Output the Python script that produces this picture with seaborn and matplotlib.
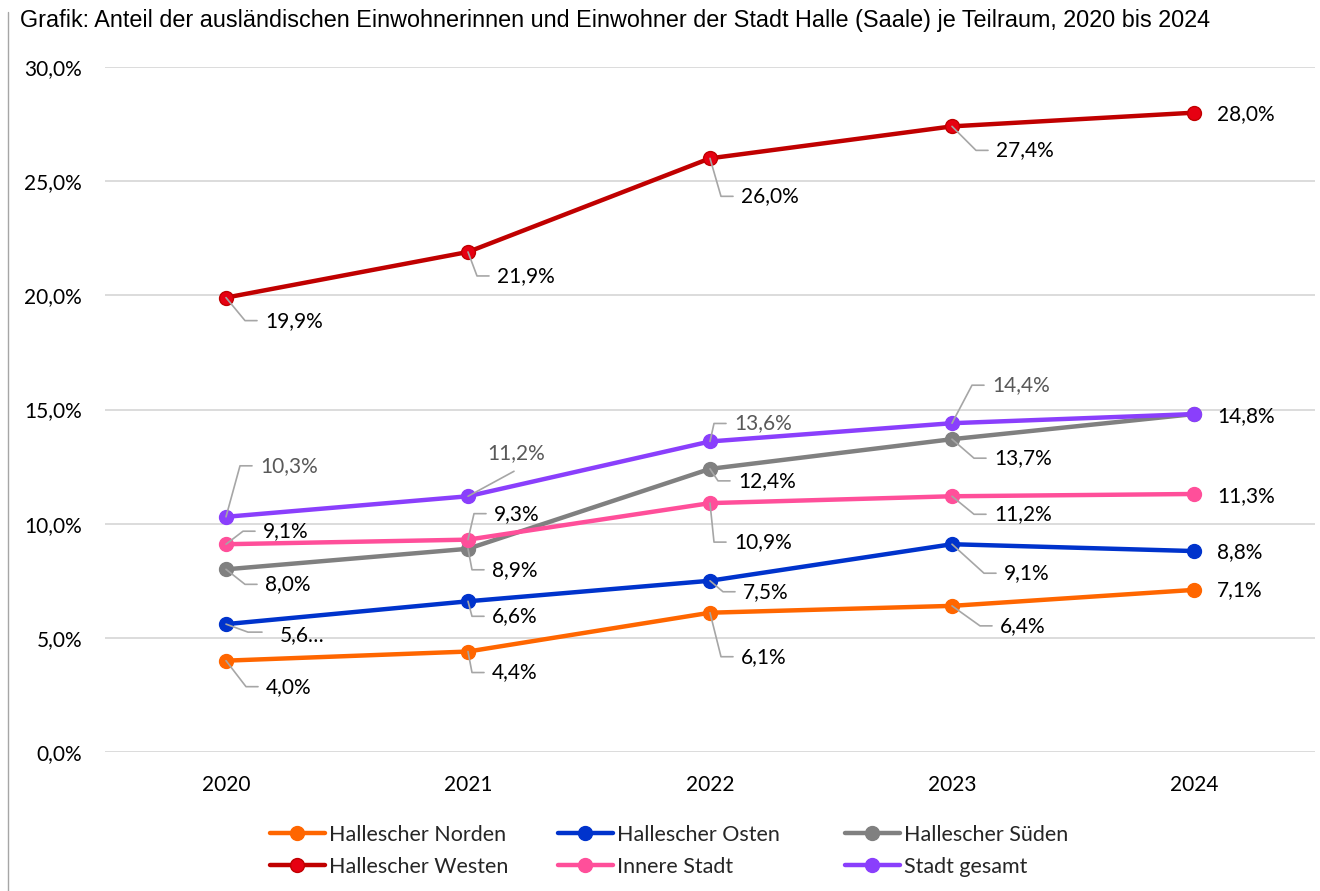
import matplotlib
matplotlib.use("Agg")
import matplotlib.pyplot as plt
from matplotlib.lines import Line2D
from matplotlib.transforms import IdentityTransform
import seaborn as sns

sns.set_theme(style="white")
plt.rcParams['font.family'] = ['Lato', 'DejaVu Sans']

# data (percent)
years = [2020, 2021, 2022, 2023, 2024]
norden = [4.0, 4.4, 6.1, 6.4, 7.1]
osten = [5.6, 6.6, 7.5, 9.1, 8.8]
sueden = [8.0, 8.9, 12.4, 13.7, 14.8]
westen = [19.9, 21.9, 26.0, 27.4, 28.0]
innere = [9.1, 9.3, 10.9, 11.2, 11.3]
gesamt = [10.3, 11.2, 13.6, 14.4, 14.8]
series_names = ["Hallescher Norden", "Hallescher Osten", "Hallescher Süden",
                "Hallescher Westen", "Innere Stadt", "Stadt gesamt"]
series_values = [norden, osten, sueden, westen, innere, gesamt]
y_ticks = [0, 5, 10, 15, 20, 25, 30]
title = ("Grafik: Anteil der ausländischen Einwohnerinnen und Einwohner der "
         "Stadt Halle (Saale) je Teilraum, 2020 bis 2024")

colors = ["#FF6600", "#0033CC", "#808080", "#C00000", "#FF4F9A", "#8A3FFC"]
faces = ["#FF6600", "#0033CC", "#808080", "#E60012", "#FF4F9A", "#8A3FFC"]
label_colors = ["#000000"] * 5 + ["#595959"]

def fmt(v):
    return f"{v:.1f}".replace(".", ",") + "%"

# label placement, pixels from the point (dx to text left, dy downwards)
label_pos = [
    [(40, 26), (24, 21), (31, 44), (48, 20), (23, 0)],
    [(54, 11, [(22, 8), (36, 8)]), (24, 15), (33, 11), (52, 29), (23, 1)],
    [(39, 15), (24, 21), (28, 12), (42, 19), (23, 2)],
    [(39, 23), (29, 24), (31, 38), (44, 24), (23, 1)],
    [(37, -13), (26, -26), (24, 39), (42, 18), (23, 2)],
    [(34, -51), (19, -43, [(46, -25)]), (24, -18), (40, -38), None],
]
label_text = {(1, 0): "5,6…"}

fig = plt.figure(figsize=(13.2, 8.91), dpi=100)
ax = fig.add_axes([105 / 1320, 1 - 752 / 891, 1210 / 1320, 685 / 891])

for name, vals, c, fc in zip(series_names, series_values, colors, faces):
    sns.lineplot(x=years, y=vals, ax=ax, color=c, linewidth=3.2, marker="o",
                 markersize=10, markerfacecolor=fc, markeredgecolor=c,
                 markeredgewidth=1, label=name, legend=False, zorder=3)

ax.set_xlim(2019.5, 2024.5)
ax.set_ylim(0, 30)
ax.set_xticks(years)
ax.set_xticklabels([str(y) for y in years])
ax.set_yticks(y_ticks)
ax.set_yticklabels([fmt(t) for t in y_ticks])
ax.set_xlabel("")
ax.set_ylabel("")
ax.yaxis.grid(True, color="#D9D9D9", linewidth=1.3)
ax.xaxis.grid(False)
ax.set_axisbelow(True)
sns.despine(ax=ax, left=True, bottom=True)
ax.tick_params(axis="y", length=0, pad=16.5, labelsize=15, colors="#000000")
ax.tick_params(axis="x", length=0, pad=16.5, labelsize=15, colors="#000000")

# data labels with leader lines
for si, vals in enumerate(series_values):
    for i, (x, v) in enumerate(zip(years, vals)):
        spec = label_pos[si][i]
        if spec is None:
            continue
        dx, dy = spec[0], spec[1]
        px, py = ax.transData.transform((x, v))
        if i < len(years) - 1:
            pts = spec[2] if len(spec) > 2 else [(dx - 20, dy), (dx - 8, dy)]
            lx = [px] + [px + p[0] for p in pts]
            ly = [py] + [py - p[1] for p in pts]
            fig.add_artist(Line2D(lx, ly, transform=IdentityTransform(),
                                  color="#A6A6A6", linewidth=1.2, zorder=5))
        fig.text(px + dx, py - dy, label_text.get((si, i), fmt(v)),
                 transform=IdentityTransform(), ha="left", va="center",
                 fontsize=15, color=label_colors[si], zorder=6)

# legend, three columns of two
handles, labels = ax.get_legend_handles_labels()
col_x = [270, 558, 845]
for c in range(3):
    idx = [c, c + 3]
    fig.legend([handles[j] for j in idx], [labels[j] for j in idx],
               loc="upper left", bbox_to_anchor=(col_x[c] / 1320, 1 - 825 / 891),
               frameon=False, borderpad=0, borderaxespad=0, handlelength=2.55,
               handletextpad=0.2, labelspacing=0.55, fontsize=15.5)

fig.text(20 / 1320, 1 - 20 / 891, title, fontfamily="Liberation Sans",
         fontsize=16.8, va="center", ha="left", color="#000000")
fig.add_artist(Line2D([7.5 / 1320] * 2, [0, 1 - 12 / 891], color="#A6A6A6",
                      linewidth=1))

fig.savefig("out.png", dpi=100)
